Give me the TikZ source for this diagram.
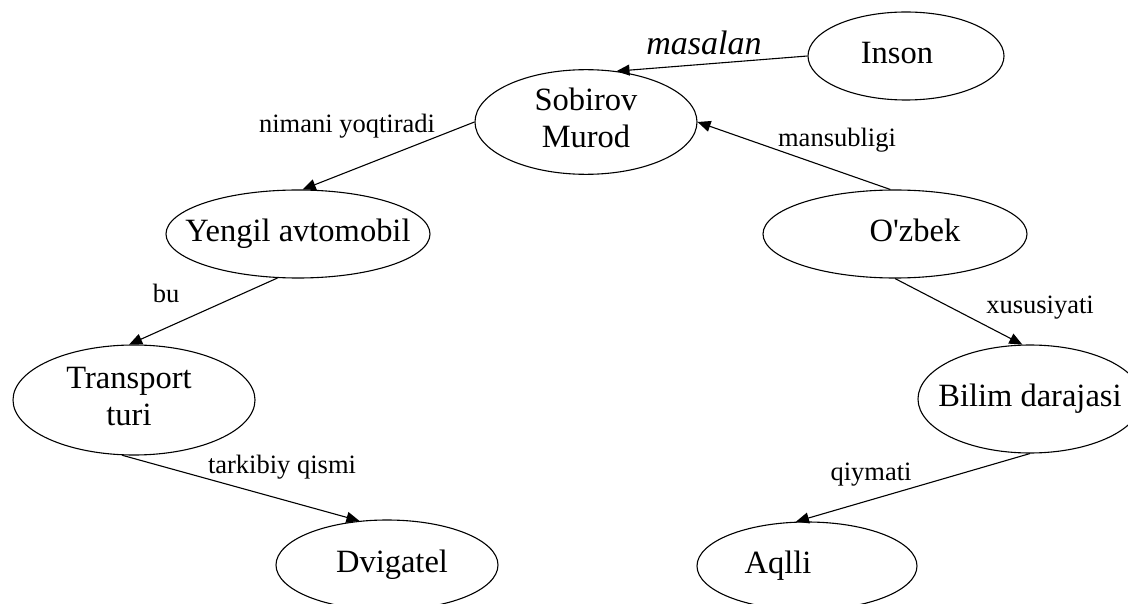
\documentclass[tikz,border=0pt]{standalone}
\usepackage{fontspec}
\setmainfont{Liberation Serif}
\usetikzlibrary{shapes.geometric,arrows.meta}
\newcommand{\txt}[2][0pt]{\makebox[0pt]{\hspace*{#1}\begin{tabular}{@{}c@{}}#2\end{tabular}}}

\begin{document}
\begin{tikzpicture}[x=1pt,y=-1pt,
  ell/.style={draw,ellipse,line width=1.1pt,inner sep=0pt,font=\fontsize{32.5}{37}\selectfont},
  lab/.style={anchor=base,inner sep=0pt,font=\fontsize{26.5}{30}\selectfont},
  arr/.style={line width=1.1pt,-{Triangle[length=13pt,width=11pt]}}]
\useasboundingbox (0,0) rectangle (1128,604);

\node[ell,minimum width=196pt,minimum height=88pt] (inson) at (906,56) {\txt[-18pt]{Inson}};
\node[ell,minimum width=222pt,minimum height=88pt] (sobirov) at (586,122) {\txt{Sobirov\\Murod}};
\node[ell,minimum width=264pt,minimum height=88pt] (yengil) at (298,234) {\txt{Yengil avtomobil}};
\node[ell,minimum width=242pt,minimum height=110pt] (transport) at (134,400) {\txt[-10pt]{Transport\\turi}};
\node[ell,minimum width=222pt,minimum height=90pt] (dvigatel) at (387,565) {\txt[10pt]{Dvigatel}};
\node[ell,minimum width=264pt,minimum height=88pt] (ozbek) at (895,234) {\txt[40pt]{O\textquotesingle zbek}};
\node[ell,minimum width=224pt,minimum height=108pt] (bilim) at (1030,399) {\txt{Bilim darajasi}};
\node[ell,minimum width=220pt,minimum height=88pt] (aqlli) at (807,566) {\txt[-58pt]{Aqlli}};

\foreach \from/\to in {inson.west/sobirov.59, sobirov.west/yengil.84, yengil.245/transport.95,
  transport.258/dvigatel.122, ozbek.96/sobirov.east, ozbek.south/bilim.98, bilim.south/aqlli.104}
  \draw[arr] (\from) -- (\to);

\node[lab,font=\fontsize{34}{40}\selectfont\itshape] (masalan) at (704,55) {masalan};
\node[lab] (nimani) at (347,133) {nimani yoqtiradi};
\node[lab] (bu) at (166,302) {bu};
\node[lab] (tarkibiy) at (282,473) {tarkibiy qismi};
\node[lab] (mansubligi) at (837,147) {mansubligi};
\node[lab] (xususiyati) at (1040,313) {xususiyati};
\node[lab] (qiymati) at (871,480) {qiymati};
\end{tikzpicture}
\end{document}
